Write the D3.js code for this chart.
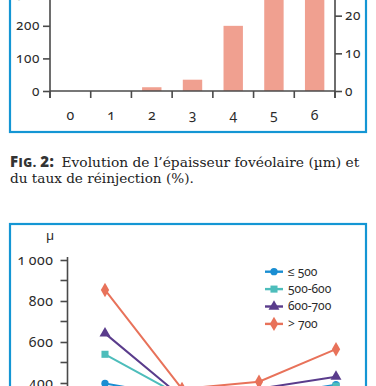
<!DOCTYPE html>
<html>
<head>
<meta charset="utf-8">
<script src="https://cdn.jsdelivr.net/npm/d3@7"></script>
<style>
  html, body { margin: 0; padding: 0; background: #fff; }
  svg { display: block; }
  .num { font-family: "Noto Sans", sans-serif; font-variant-numeric: oldstyle-nums; font-feature-settings: "onum" 1; fill: #2a2a2a; }
  .cap { font-family: "DejaVu Serif", serif; fill: #222; }
</style>
</head>
<body>
<script>
// ---------- DATA ----------
// Top chart (bars): months and re-injection rate (%)
const barMonths = ["0", "1", "2", "3", "4", "5", "6"];
const barValues = [0, 0, 1, 3, 17.3, 30, 32];
const leftTicksTop = [0, 100, 200, 300];
const rightTicksTop = [0, 10, 20];

// Bottom chart (lines): foveal thickness by baseline group (µ)
const visits = ["J0", "M1", "M3", "M6"];
const seriesNames = ["≤ 500", "500-600", "600-700", "> 700"];
const sLe500 = [398, 330, 330, 392];
const s500600 = [540, 334, 340, 385];
const s600700 = [642, 330, 372, 431];
const sGt700 = [854, 371, 406, 565];
const leftTicksBottom = [400, 600, 800, 1000];
const minorTicksBottom = [300, 500, 700, 900];

// ---------- STYLE ----------
const W = 376, H = 386;
const frameColor = "#1496d4";
const axisColor = "#4a4a4a";
const barColor = "#f0a090";
const colors = ["#1a8ed2", "#4dbdbb", "#5a3c8c", "#e8725a"];
const symbols = [d3.symbolCircle, d3.symbolSquare, d3.symbolTriangle, d3.symbolDiamond];
const symSizes = [42, 50, 52, 60];

const svg = d3.select("body").append("svg").attr("width", W).attr("height", H);
svg.append("rect").attr("width", W).attr("height", H).attr("fill", "#fff");

// ===== TOP CHART =====
svg.append("rect").attr("x", 10).attr("y", -40).attr("width", 356).attr("height", 172)
  .attr("fill", "none").attr("stroke", frameColor).attr("stroke-width", 2.2);

const xBand = d3.scaleBand().domain(barMonths).range([50, 335]);
const yLeftTop = d3.scaleLinear().domain([0, 300]).range([91, -6.8]);
const yRightTop = d3.scaleLinear().domain([0, 30]).range([91, -22]);

// bars
svg.append("g").selectAll("rect").data(barValues).join("rect")
  .attr("x", (d, i) => xBand(barMonths[i]) + xBand.bandwidth() / 2 - 9.7)
  .attr("width", 19.4)
  .attr("y", d => yRightTop(d))
  .attr("height", d => yRightTop(0) - yRightTop(d))
  .attr("fill", barColor);

// left axis
const gLT = svg.append("g").attr("transform", "translate(50,0)")
  .call(d3.axisLeft(yLeftTop).tickValues(leftTicksTop).tickSize(7).tickPadding(3).tickFormat(d3.format("d")));
gLT.select(".domain").remove();
gLT.append("line").attr("y1", -10).attr("y2", 98).attr("stroke", axisColor).attr("stroke-width", 1.6);

// right axis
const gRT = svg.append("g").attr("transform", "translate(335,0)")
  .call(d3.axisRight(yRightTop).tickValues(rightTicksTop).tickSize(7).tickPadding(3).tickFormat(d3.format("d")));
gRT.select(".domain").remove();
gRT.append("line").attr("y1", -25).attr("y2", 98).attr("stroke", axisColor).attr("stroke-width", 1.6);

[gLT, gRT].forEach(g => {
  g.selectAll(".tick line").attr("stroke", axisColor).attr("stroke-width", 1.6);
  g.selectAll(".tick text").attr("class", "num").attr("font-size", 13.5).attr("letter-spacing", 0.6)
    .attr("dy", "0.3em");
});

// bottom axis of top chart
const gBT = svg.append("g").attr("transform", "translate(0,91)");
gBT.append("line").attr("x1", 50).attr("x2", 335).attr("stroke", axisColor).attr("stroke-width", 1.6);
const bounds = barMonths.map(m => xBand(m)).concat([335]);
gBT.selectAll("line.tk").data(bounds).join("line").attr("class", "tk")
  .attr("x1", d => d).attr("x2", d => d).attr("y1", 0).attr("y2", 7)
  .attr("stroke", axisColor).attr("stroke-width", 1.6);
gBT.selectAll("text").data(barMonths).join("text")
  .attr("class", "num").attr("font-size", 14).attr("text-anchor", "middle")
  .attr("x", d => xBand(d) + xBand.bandwidth() / 2).attr("y", 29)
  .text(d => d);

// ===== CAPTION =====
const cap = svg.append("g");
const bold = cap.append("text").attr("x", 10).attr("y", 167)
  .attr("font-family", "'Open Sans', sans-serif").attr("font-weight", 800).attr("fill", "#333")
  .attr("letter-spacing", 0.5);
bold.append("tspan").attr("font-size", 15).text("F");
bold.append("tspan").attr("font-size", 12).text("IG. ");
bold.append("tspan").attr("font-size", 15).text("2:");

function fitText(sel, target) {
  const fs = +sel.attr("font-size");
  const w = sel.node().getComputedTextLength();
  sel.attr("font-size", fs * target / w);
}
const l1 = cap.append("text").attr("class", "cap").attr("x", 61.5).attr("y", 167).attr("font-size", 13)
  .text("Evolution de l’épaisseur fovéolaire (µm) et");
fitText(l1, 298);
const l2 = cap.append("text").attr("class", "cap").attr("x", 10).attr("y", 183).attr("font-size", 13)
  .text("du taux de réinjection (%).");
fitText(l2, 184);

// ===== BOTTOM CHART =====
svg.append("rect").attr("x", 10).attr("y", 224).attr("width", 356).attr("height", 200)
  .attr("fill", "none").attr("stroke", frameColor).attr("stroke-width", 2.2);

const xBot = d3.scalePoint().domain(visits).range([105, 336]);
const yBot = d3.scaleLinear().domain([400, 1000]).range([383, 260]);

// left axis
const gLB = svg.append("g").attr("transform", "translate(67.5,0)");
gLB.append("line").attr("y1", 257).attr("y2", 420).attr("stroke", axisColor).attr("stroke-width", 1.6);
gLB.selectAll("line.minor").data(minorTicksBottom).join("line").attr("class", "minor")
  .attr("x1", -7).attr("x2", 0).attr("y1", d => yBot(d)).attr("y2", d => yBot(d))
  .attr("stroke", axisColor).attr("stroke-width", 1.6);
const axB = d3.axisLeft(yBot).tickValues(leftTicksBottom).tickSize(7).tickPadding(7)
  .tickFormat(d => d3.format(",")(d).replace(",", "\u2009"));
const gAxB = gLB.append("g").call(axB);
gAxB.select(".domain").remove();
gAxB.selectAll(".tick line").attr("stroke", axisColor).attr("stroke-width", 1.6);
gAxB.selectAll(".tick text").attr("class", "num").attr("font-size", 14).attr("letter-spacing", 0.6).attr("dy", "0.3em");

svg.append("text").attr("class", "num").attr("x", 50).attr("y", 240).attr("font-size", 13).attr("text-anchor", "middle").text("µ");

// lines
const allSeries = [sLe500, s500600, s600700, sGt700];
const line = d3.line().x((d, i) => xBot(visits[i])).y(d => yBot(d));
const gLines = svg.append("g");
allSeries.forEach((s, k) => {
  gLines.append("path").datum(s).attr("d", line).attr("fill", "none")
    .attr("stroke", colors[k]).attr("stroke-width", 2);
});
allSeries.forEach((s, k) => {
  gLines.selectAll("path.m" + k).data(s).join("path").attr("class", "m" + k)
    .attr("transform", (d, i) => `translate(${xBot(visits[i])},${yBot(d)})`)
    .attr("d", d3.symbol().type(symbols[k]).size(symSizes[k]))
    .attr("fill", colors[k]);
});

// legend
const leg = svg.append("g");
seriesNames.forEach((name, k) => {
  const y = 271.7 + k * 17.4;
  leg.append("line").attr("x1", 265).attr("x2", 283).attr("y1", y).attr("y2", y)
    .attr("stroke", colors[k]).attr("stroke-width", 2.4);
  leg.append("path").attr("transform", `translate(274,${y})`)
    .attr("d", d3.symbol().type(symbols[k]).size(symSizes[k])).attr("fill", colors[k]);
  leg.append("text").attr("class", "num").attr("x", 288).attr("y", y).attr("dy", "0.32em")
    .attr("font-size", 12).text(name);
});
</script>
</body>
</html>
